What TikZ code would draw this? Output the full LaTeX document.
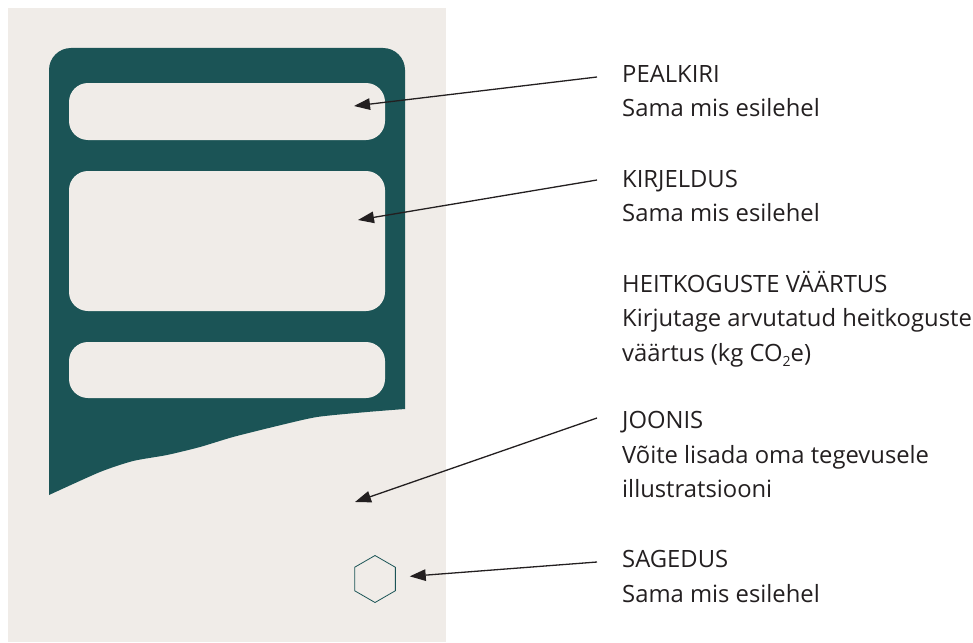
\documentclass[tikz,border=0pt]{standalone}
\usepackage{fontspec}
\setmainfont{Open Sans}
\usetikzlibrary{positioning}
\usetikzlibrary{calc}
\usetikzlibrary{arrows.meta}
\usetikzlibrary{shapes.geometric}

\definecolor{paper}{HTML}{F0ECE8}
\definecolor{cardteal}{HTML}{1B5456}
\definecolor{ink}{HTML}{231F20}

\tikzset{
  slot/.style={fill=paper, rounded corners=19pt, minimum width=316pt, inner sep=0pt},
  title/.style={anchor=base west, inner sep=0pt, text=ink, font=\fontsize{23.8}{30}\selectfont},
  pointer/.style={-{Triangle[length=16pt,width=11.5pt]}, line width=1.3pt, ink},
}

\begin{document}
\begin{tikzpicture}[x=1pt, y=-1pt]
    \useasboundingbox (0,0) rectangle (973,642);
    \fill [paper] (8,8) rectangle (446,642);

    % card with torn bottom edge
    \fill [cardteal] (49,495) [rounded corners=22pt] -- (49,48) -- (405,48) [sharp corners] -- (405,409)
      -- plot [smooth, tension=0.4] coordinates {(405,409) (367,412) (317,417) (277,426) (233,437)
                                   (200,447) (167,455) (133,461) (100,472) (49,495)} -- cycle;

    \node [slot, minimum height=57pt] (s-pealkiri) at (227,111.5) {};
    \node [slot, minimum height=140pt] (s-kirjeldus) at (227,241) {};
    \node [slot, minimum height=56pt] (s-vaartus) at (227,370) {};
    \node [draw=cardteal, line width=0.8pt, regular polygon, regular polygon sides=6,
           shape border rotate=30, minimum size=47pt, inner sep=0pt] (hex) at (375,579) {};

    % labels
    \node [title] (t-pealkiri) at (622,82) {PEALKIRI};
    \node [title] (d-pealkiri) at ($(t-pealkiri.base west)+(0,34)$) {Sama mis esilehel};
    \node [title] (t-kirjeldus) at (622,187) {KIRJELDUS};
    \node [title] (d-kirjeldus) at ($(t-kirjeldus.base west)+(0,34.5)$) {Sama mis esilehel};
    \node [title] (t-vaartus) at (622,292) {HEITKOGUSTE VÄÄRTUS};
    \node [title] (d-vaartus) at ($(t-vaartus.base west)+(0,34.5)$) {Kirjutage arvutatud heitkoguste};
    \node [title] (e-vaartus) at ($(d-vaartus.base west)+(0,34.5)$)
          {väärtus (kg CO\raisebox{-5pt}{\fontsize{14}{14}\selectfont 2}e)};
    \node [title] (t-joonis) at (622,428) {JOONIS};
    \node [title] (d-joonis) at ($(t-joonis.base west)+(0,35)$) {Võite lisada oma tegevusele};
    \node [title] (e-joonis) at ($(d-joonis.base west)+(0,34.5)$) {illustratsiooni};
    \node [title] (t-sagedus) at (622,567) {SAGEDUS};
    \node [title] (d-sagedus) at ($(t-sagedus.base west)+(0,35)$) {Sama mis esilehel};

    % arrow ends
    \coordinate (a-pealkiri) at ($(t-pealkiri.base west)+(-25,-5)$);
    \coordinate (a-kirjeldus) at ($(t-kirjeldus.base west)+(-25,-7)$);
    \coordinate (a-joonis) at ($(t-joonis.base west)+(-25,-10)$);
    \coordinate (a-sagedus) at ($(t-sagedus.base west)+(-25,-5)$);
    \coordinate (p-pealkiri) at (354,106);
    \coordinate (p-kirjeldus) at (358,220);
    \coordinate (p-joonis) at (355,502);

    \draw [pointer] (a-pealkiri) -- (p-pealkiri);
    \draw [pointer] (a-kirjeldus) -- (p-kirjeldus);
    \draw [pointer] (a-joonis) -- (p-joonis);
    \draw [pointer, shorten >=14pt] (a-sagedus) -- (hex);
\end{tikzpicture}
\end{document}
